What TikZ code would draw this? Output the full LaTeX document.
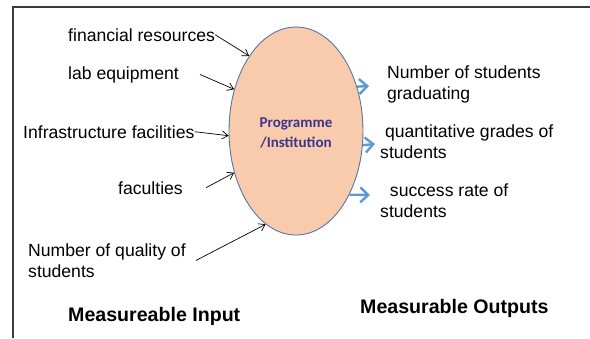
\documentclass[tikz,border=0pt]{standalone}
\usepackage{fontspec}
\setmainfont{Liberation Sans}
\newfontfamily\calib{Carlito}
\usetikzlibrary{shapes.geometric,arrows.meta}
\definecolor{peach}{RGB}{248,203,173}
\definecolor{edgeblue}{RGB}{84,120,160}
\definecolor{arrblue}{RGB}{91,155,213}
\definecolor{progblue}{RGB}{58,52,140}
\definecolor{framegray}{RGB}{60,60,60}
\begin{document}
\begin{tikzpicture}[x=1pt,y=-1pt,
  txt/.style={inner sep=0pt,anchor=base west,font=\fontsize{17.6}{20.5}\selectfont,align=left},
  head/.style={inner sep=0pt,anchor=base west,font=\fontsize{19.6}{23}\selectfont\bfseries},
  inarrow/.style={draw=black,line width=0.7pt,-{Straight Barb[length=6pt,width=8pt]}},
  outarrow/.style={draw=arrblue,line width=2.4pt,-{Straight Barb[length=8pt,width=15pt]}},
  blob/.style={ellipse,draw=edgeblue,line width=0.9pt,fill=peach,minimum width=134pt,minimum height=208pt,inner sep=0pt}]
\useasboundingbox (0,0) rectangle (590,338);
\draw[framegray,line width=1.1pt] (13,338) -- (13,7) -- (590,7);
\node[blob] (ell) at (296,131) {};
\node[inner sep=0pt,align=center,font=\calib\fontsize{15}{20}\selectfont\bfseries,text=progblue] (prog) at (296,133) {Programme\\/Institution};
% inputs
\node[txt] (fin) at (68,41) {financial resources};
\node[txt] (lab) at (68,79) {lab equipment};
\node[txt] (inf) at (23,138) {Infrastructure facilities};
\node[txt] (fac) at (118,194) {faculties};
\node[txt] (qual) at (28,277) {Number of quality of\\students};
\node[head] (min) at (68,321) {Measureable Input};
% outputs
\node[txt] (o1) at (382,99) {\ Number of students\\\ graduating};
\node[txt] (o2) at (380,158) {\ quantitative grades of\\students};
\node[txt] (o3) at (380,217) {\ \ success rate of\\students};
\node[head] (mout) at (360,313) {Measurable Outputs};
% input arrows
\draw[inarrow] (fin.east) -- (ell.122);
\draw[inarrow] ([xshift=21pt]lab.east) -- (ell.146.5);
\draw[inarrow] (inf.east) -- (ell.184);
\draw[inarrow] ([xshift=23pt]fac.east) -- (ell.214.3);
\draw[inarrow] ([xshift=10pt]qual.east) -- (ell.252.5);
% output arrows
\coordinate (t1) at (369,86);
\coordinate (t2) at (375,144);
\coordinate (t3) at (370,195);
\draw[outarrow] (ell.36.7) -- (t1);
\draw[outarrow] (ell.-12) -- (t2);
\draw[outarrow] (ell.-50.8) -- (t3);
\end{tikzpicture}
\end{document}
